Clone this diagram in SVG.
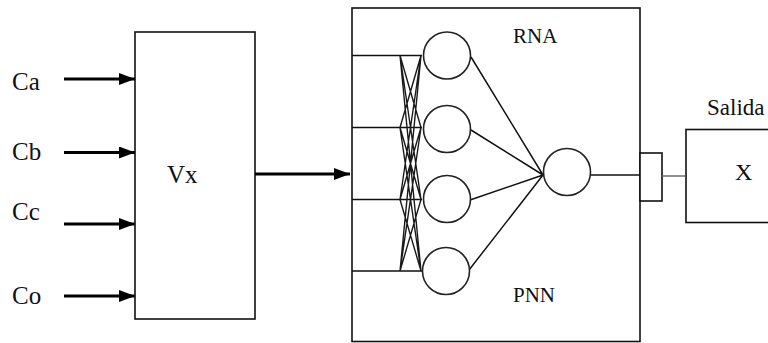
<svg xmlns="http://www.w3.org/2000/svg" width="768" height="343" viewBox="0 0 768 343">
  <style>
    .box { fill: #fff; stroke: #111; stroke-width: 1.6; }
    .neuron { fill: #fff; stroke: #222; stroke-width: 1.6; }
    .wire { fill: none; stroke: #111; stroke-width: 1.5; }
    .thin { fill: none; stroke: #1a1a1a; stroke-width: 1.4; }
    .arrow { fill: none; stroke: #000; stroke-width: 3; }
  </style>
  <defs>
    <marker id="head" markerWidth="16" markerHeight="12" refX="16" refY="6" orient="auto" markerUnits="userSpaceOnUse">
      <path d="M0,0 L16,6 L0,12 Z" fill="#000"/>
    </marker>
  </defs>
  <rect width="768" height="343" fill="#fff"/>

  <!-- input labels -->
  <g id="in-ca"><text x="12" y="90" style="font-family:'Liberation Serif',serif;font-size:25px;fill:#111">Ca</text></g>
  <g id="in-cb"><text x="12" y="160" style="font-family:'Liberation Serif',serif;font-size:25px;fill:#111">Cb</text></g>
  <g id="in-cc"><text x="12" y="220" style="font-family:'Liberation Serif',serif;font-size:25px;fill:#111">Cc</text></g>
  <g id="in-co"><text x="12" y="304" style="font-family:'Liberation Serif',serif;font-size:25px;fill:#111">Co</text></g>

  <!-- Vx block -->
  <g id="vx">
    <rect class="box" x="135" y="32" width="120" height="287"/>
    <text x="167" y="183" style="font-family:'Liberation Serif',serif;font-size:25px;fill:#111">Vx</text>
  </g>

  <!-- RNA / PNN block -->
  <g id="rna">
    <rect class="box" x="352" y="8" width="288" height="333.5"/>
    <text x="513" y="43" style="font-family:'Liberation Serif',serif;font-size:21px;fill:#111">RNA</text>
    <text x="513" y="302" style="font-family:'Liberation Serif',serif;font-size:21px;fill:#111">PNN</text>
  </g>

  <!-- network inside the RNA block -->
  <g id="net-wires">
    <path class="wire" d="M352,55.5 H422 M352,127.5 H422 M352,199.5 H422 M352,271 H422"/>
    <path class="thin" d="M400,55.5 L421,127.5 M400,55.5 L421,199.5 M400,55.5 L421,271
                          M400,127.5 L421,55.5 M400,127.5 L421,199.5 M400,127.5 L421,271
                          M400,199.5 L421,55.5 M400,199.5 L421,127.5 M400,199.5 L421,271
                          M400,271 L421,55.5 M400,271 L421,127.5 M400,271 L421,199.5"/>
    <path class="wire" d="M471,57 L543,175 M471,130 L543,175 M470,200 L543,175 M469,270 L543,175"/>
    <path class="wire" d="M591,175 H640"/>
  </g>
  <g id="hidden-1"><circle class="neuron" cx="447" cy="55.5" r="23.5"/></g>
  <g id="hidden-2"><circle class="neuron" cx="447" cy="129" r="23.5"/></g>
  <g id="hidden-3"><circle class="neuron" cx="447" cy="199" r="23.5"/></g>
  <g id="hidden-4"><circle class="neuron" cx="446" cy="271" r="23.5"/></g>
  <g id="output-neuron"><circle class="neuron" cx="567" cy="172" r="23.5"/></g>

  <!-- output port and result block -->
  <g id="port"><rect class="box" x="640" y="153" width="22" height="48"/></g>
  <g id="salida">
    <text x="707" y="115" style="font-family:'Liberation Serif',serif;font-size:23px;fill:#111">Salida</text>
    <rect class="box" x="686" y="129.5" width="100" height="93"/>
    <text x="735" y="180" style="font-family:'Liberation Serif',serif;font-size:24px;fill:#111">X</text>
  </g>

  <!-- connectors -->
  <g id="connectors">
    <line class="arrow" x1="64" y1="79" x2="135" y2="79" marker-end="url(#head)"/>
    <line class="arrow" x1="64" y1="152.5" x2="135" y2="152.5" marker-end="url(#head)"/>
    <line class="arrow" x1="64" y1="224" x2="135" y2="224" marker-end="url(#head)"/>
    <line class="arrow" x1="64" y1="296" x2="135" y2="296" marker-end="url(#head)"/>
    <line class="arrow" x1="255" y1="174" x2="350" y2="174" marker-end="url(#head)"/>
    <line x1="662" y1="176" x2="686" y2="176" stroke="#555" stroke-width="1.3"/>
  </g>
</svg>
